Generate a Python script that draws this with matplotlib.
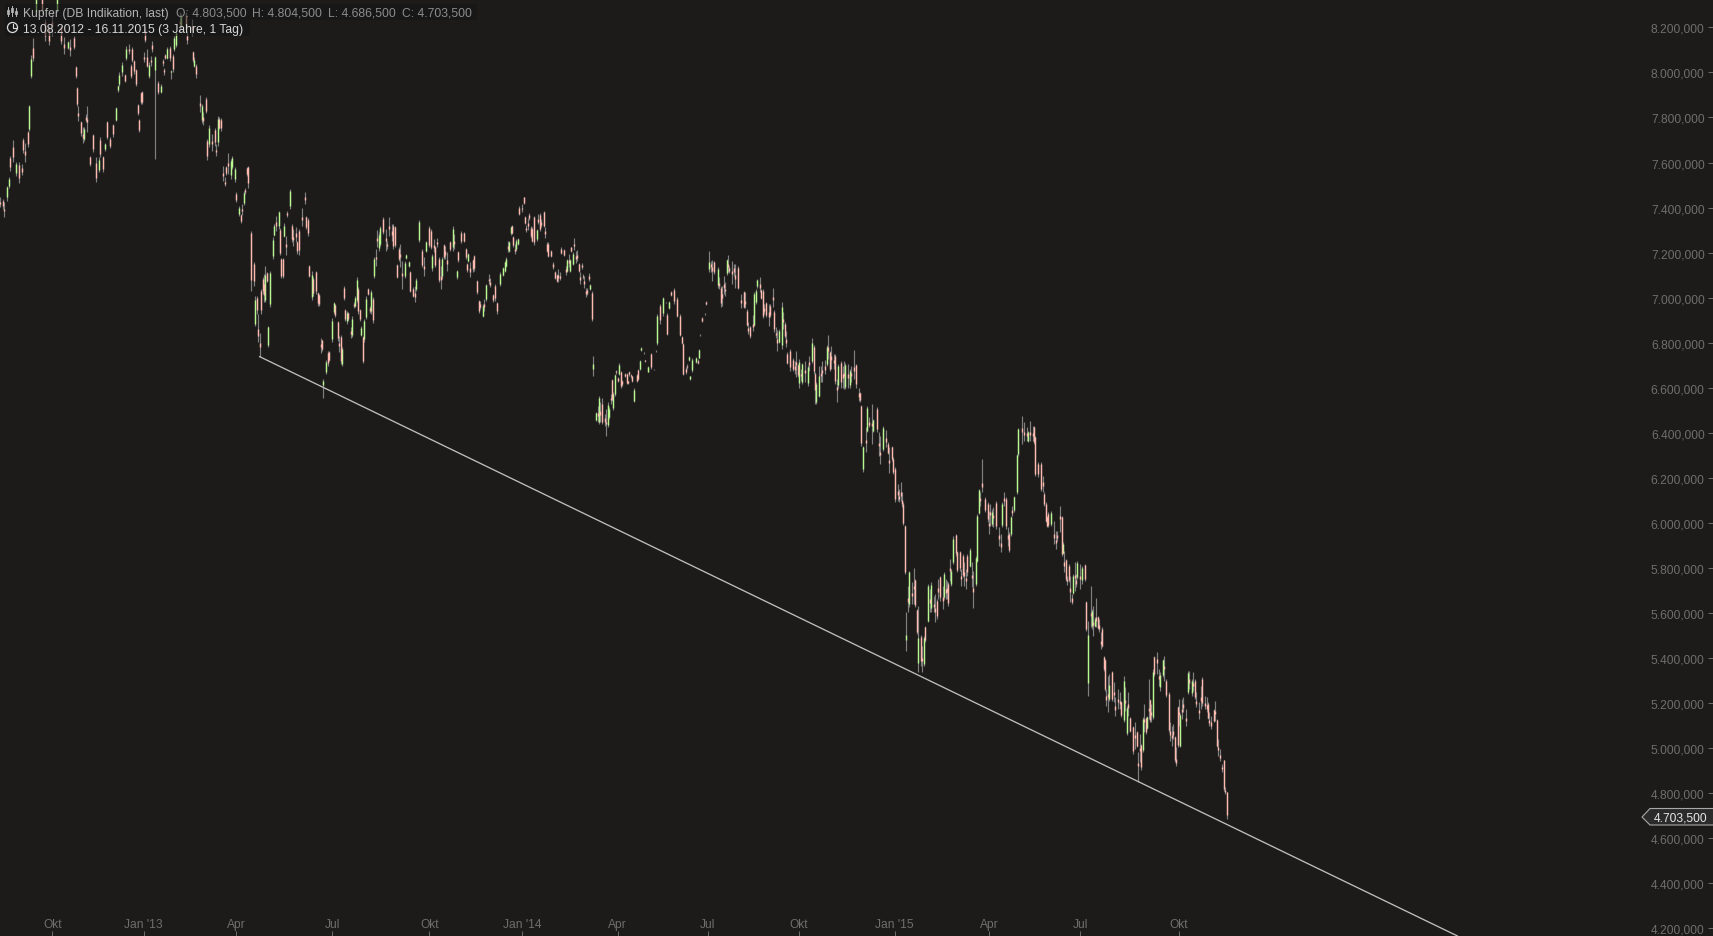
import numpy as np
import matplotlib
matplotlib.use("Agg")
import matplotlib.pyplot as plt
from matplotlib.patches import Circle, Polygon, Rectangle

plt.rcParams['font.family'] = ['Liberation Sans', 'DejaVu Sans']

# Prices are in thousands, sessions are trading days counted from Oct 2012
sessions = [
    -36,-34,-33,-31,-30,-29,-27,-25,-23,-21, -20,-19,-17,-16,-15,-13,-11,-7,-5,-2,
    0,3,6,8,11,12,15,16,17,18, 20,21,22,23,24,26,28,30,32,33,
    35,36,38,40,42,44,45,46,48,50, 51,53,54,55,56,58,59,60,61,62,
    63,64,65,67,68,69,71,73,75,76, 77,78,79,81,82,83,84,85,88,89,
    92,93,96,97,98,99,102,103,104,106, 107,108,110,112,113,114,115,116,118,119,
    120,121,123,124,126,127,129,130,131,132, 133,134,135,
    137,139,140,141,142,143,144,145,146,147, 148,149,150,152,153,154,156,157,158,159,
    160,161,162,164,165,166,168,169,170,172, 174,175,176,177,179,180,182,183,184,185,
    186,187,189,190,191,193,194,195,197,198, 199,200,201,202,203,204,206,207,208,209,
    210,211,212,213,214,215,216,218,219,220, 221,222,223,224,225,226,228,230,231,232,
    234,235,236,238,239,240,241,243,244,246, 247,249,250,251,253,255,256,258,260,261,
    262,263,264,265,267,268,269,270,271,272, 274,276,277,279,280,282,284,285,286,287,
    288,290,291,293,294,295,297,298,299,301, 302,304,305,307,
    309,311,312,313,314,315,316,317,318,319, 320,321,322,324,325,326,327,328,329,330,
    331,332,334,335,336,337,339,340,341,342, 344,345,347,348,349,350,351,353,354,355,
    356,357,358,359,360,361,362,363,364,365, 366,367,368,369,370,371,372,373,375,376,
    377,378,379,381,382,383,384,385,386,387, 388,389,390,391,392,393,395,396,397,398,
    399,400,401,403,404,405,406,408,409,411, 413,415,416,417,419,421,423,424,425,427,
    429,431,433,434,435,437,438,439,440,441, 444,445,446,447,448,450,451,453,454,455,
    456,459,460,461,462,463,464,465,466,467, 469,470,471,473,
    475,477,478,479,480,481,483,484,485,486, 488,489,490,491,492,494,495,497,498,499,
    500,501,503,504,505,506,507,509,511,512, 513,514,515,516,517,519,521,522,524,525,
    526,527,529,530,531,533,534,535,536,537, 539,540,541,542,544,545,546,547,549,550,
    551,553,554,556,557,558,559,561,562,563, 565,566,569,570,571,573,575,576,577,579, 580,
    581,583,584,585,586,587,588,589,590,591, 593,594,595,596,597,599,600,601,602,604,
    605,606,608,609,610,611,612,614,615,616, 617,618,619,620,621,623,624,626,627,628,
    629,630,631,633,634,635,637,638,639,640, 641,643,645,646,647,648,649,651,653,654,
    655,656,658,659,660,661,662,663,665,666, 669,670,672,673,674,676,677,678,680,682,
    683,684,685,686,
    687,689,691,692,693,695,696,697,698,699, 700,701,702,703,704,705,706,707,709,710,
    712,713,714,716,717,718,719,720,721,722, 723,724,725,726,727,728,729,731,732,733,
    735,736,737,739,740,741,742,743,745,747, 748,749,750,751,752,753,754,755,756,757,
    758,759,760,762,763,764,766,767,768,770, 771,772,773,774,775,776,777,778,779,780,
    782,783,784,786,787,788,789,791,792,793, 795,796,797,798,799,801,802,803,804,805,
    807,808,809,810,
]
highs = [
    7445,7438,7423,7497,7534,7630,7701,7604,7601,7593, 7707,7687,7741,7857,8077,8151,8340,8340,8237,8208,
    8267,8340,8208,8156,8141,8148,8163,8030,7937,7849, 7786,7756,7756,7815,7849,7630,7727,7623,7623,7712,
    7630,7687,7786,7712,7771,7848,7944,8000,8045,7993, 8116,8126,8037,8111,8057,8015,7860,7793,7915,7919,
    8089,8200,8104,8045,8074,8138,8074,7963,7949,8060, 8020,8082,8114,8119,8011,8082,8163,8185,8267,8259,
    8267,8185,8237,8097,8067,8037,7900,7860,7823,7889, 7704,7767,7727,7752,7682,7808,7801,7796,7586,7534,
    7586,7642,7616,7627,7579,7468,7408,7371,7416,7475, 7485,7579,7586,
    7295,7157,7006,7006,6928,6843,7039,7090,7105,7142, 7113,6876,7120,7268,7327,7364,7386,7309,7176,7176,
    7330,7275,7386,7483,7327,7305,7312,7253,7305,7397, 7468,7364,7352,7145,7120,7090,7120,7024,7016,6820,
    6814,6639,6725,6765,6765,6908,6982,6972,6898,6831, 6834,6780,7050,6950,6942,6935,6868,6917,6982,7009,
    7090,7046,6950,6873,6831,6905,7006,7042,6965,7036, 7002,7179,7216,7302,7290,7320,7357,7305,7253,7357,
    7327,7327,7320,7150,7224,7238,7164,7164,7194,7164, 7120,7046,7053,7086,7346,7216,7179,7253,7317,7305,
    7194,7261,7231,7264,7179,7142,7179,7238,7231,7201, 7253,7317,7283,7124,7209,7295,7293,7219,7154,7198,
    7157,7172,7190,7079,6991,6986,6972,6994,7061,7105, 7086,7016,7061,6982,
    7112,7134,7164,7179,7253,7253,7319,7324,7275,7238, 7260,7267,7405,7415,7449,7361,7322,7352,7378,7316,
    7312,7364,7307,7371,7375,7349,7386,7312,7245,7245, 7213,7159,7119,7105,7127,7115,7223,7216,7142,7171,
    7193,7171,7227,7201,7263,7208,7211,7153,7112,7153, 7105,7094,7045,7045,7109,7060,7028,6739,6493,6520,
    6564,6535,6553,6483,6505,6535,6513,6572,6641,6579, 6661,6680,6646,6709,6675,6635,6664,6665,6631,6675,
    6660,6653,6597,6661,6683,6724,6779,6760,6724,6698, 6754,6684,6766,6927,6971,7005,6980,6931,6986,7031,
    7042,7001,6927,6828,6798,6690,6705,6739,6653,6730, 6735,6728,6772,6838,6912,6930,6983,7205,7164,7168,
    7164,7134,7090,7053,7053,7094,7068,7171,7190,7142, 7164,7149,7149,7139,
    7016,7031,7023,6949,6893,6875,6923,7023,7038,7085, 7090,7038,7038,6971,6982,6971,6971,7045,6945,6868,
    6857,6860,6982,6937,6890,6853,6757,6772,6730,6720, 6764,6705,6727,6683,6712,6720,6700,6742,6819,6789,
    6668,6624,6698,6698,6720,6724,6789,6834,6764,6786, 6749,6749,6638,6705,6717,6698,6717,6709,6705,6683,
    6698,6767,6705,6601,6579,6524,6342,6424,6520,6468, 6527,6461,6513,6402,6387,6428,6413,6357,6335,6340, 6291,
    6247,6173,6150,6180,6136,6091,5991,5603,5718,5788, 5736,5798,5751,5618,5632,5502,5455,5499,5544,5729,
    5706,5736,5677,5684,5662,5751,5766,5721,5783,5751, 5743,5736,5840,5795,5940,5951,5877,5877,5795,5862,
    5825,5795,5862,5887,5825,5788,5854,6039,6150,6136, 6284,6113,6091,6054,6084,6062,6069,6099,5980,5951,
    6091,6139,6113,5980,5958,6032,6076,6121,6306,6420, 6476,6446,6424,6409,6454,6432,6432,6387,6269,6269,
    6210,6136,6091,6032,
    6047,6054,6010,5965,5965,6076,6032,5914,5877,5840, 5766,5817,5766,5684,5773,5825,5773,5832,5817,5810,
    5817,5655,5566,5718,5618,5632,5581,5665,5588,5573, 5514,5536,5410,5396,5262,5322,5329,5344,5292,5225,
    5262,5248,5210,5322,5270,5188,5248,5137,5100,5114, 5077,4981,5063,5018,5137,5196,5137,5144,5307,5218,
    5196,5351,5410,5428,5351,5336,5396,5410,5307,5248, 5114,5100,5107,5055,5003,5188,5218,5151,5218,5225,
    5174,5344,5344,5307,5336,5307,5248,5203,5277,5314, 5233,5225,5203,5159,5144,5174,5210,5129,5040,4996,
    4929,4949,4826,4804.5,
]
lows = [
    7401,7394,7357,7431,7485,7564,7601,7542,7508,7546, 7642,7601,7667,7741,7974,8049,8252,8260,8141,8123,
    8163,8267,8126,8082,8104,8071,8104,7975,7849,7783, 7719,7687,7697,7778,7734,7586,7645,7512,7556,7623,
    7556,7653,7704,7664,7712,7783,7915,7941,7986,7956, 8057,8082,7974,8045,7993,7941,7812,7737,7860,7860,
    8045,8134,8023,7975,8030,8092,7616,7904,7909,8030, 7989,8060,8060,8052,7971,8003,8097,8111,8178,8193,
    8178,8126,8163,8045,8023,7974,7823,7775,7767,7820, 7613,7667,7653,7675,7627,7675,7749,7741,7519,7494,
    7545,7549,7527,7571,7515,7426,7364,7330,7367,7411, 7460,7542,7485,
    7031,7053,6873,6928,6805,6738,6928,7016,6979,6979, 7068,6780,6957,7172,7275,7298,7305,7190,7087,7087,
    7268,7190,7357,7394,7246,7231,7246,7194,7190,7320, 7416,7305,7275,7090,6991,7009,7016,6965,6965,6754,
    6765,6554,6661,6698,6720,6805,6928,6913,6809,6757, 6706,6695,6991,6898,6883,6898,6820,6824,6953,6957,
    6979,6928,6898,6828,6710,6802,6905,7012,6932,6928, 6888,7086,7139,7224,7209,7231,7283,7209,7216,7275,
    7253,7216,7224,7086,7164,7135,7039,7086,7172,7135, 7024,7002,6979,7031,7246,7135,7098,7204,7224,7216,
    7120,7201,7135,7224,7068,7039,7083,7172,7172,7120, 7209,7209,7216,7083,7157,7243,7246,7172,7116,7157,
    7090,7116,7120,7016,6932,6949,6913,6942,6987,7061, 7046,6982,6987,6928,
    7053,7094,7112,7134,7201,7201,7279,7282,7223,7193, 7208,7233,7367,7381,7415,7327,7290,7301,7346,7267,
    7245,7235,7253,7327,7297,7312,7312,7267,7201,7179, 7179,7127,7082,7068,7071,7079,7193,7183,7100,7112,
    7134,7112,7201,7145,7211,7156,7164,7115,7060,7127, 7082,7045,7005,7011,7075,7034,6897,6650,6453,6446,
    6439,6446,6439,6431,6387,6424,6461,6527,6542,6502, 6564,6661,6624,6656,6601,6609,6646,6616,6616,6653,
    6645,6627,6538,6624,6635,6680,6764,6750,6715,6668, 6683,6680,6760,6791,6883,6920,6975,6835,6949,7008,
    6971,6912,6828,6794,6656,6661,6683,6720,6635,6671, 6712,6705,6730,6831,6893,6925,6968,7112,7112,7075,
    7105,7045,7038,6957,6964,7016,7008,7100,7112,7109, 7060,7097,7045,7038,
    6952,6952,6952,6872,6838,6819,6853,6872,6971,7045, 7023,6994,6908,6927,6912,6875,6912,6957,6846,6819,
    6764,6798,6772,6860,6819,6779,6705,6675,6675,6661, 6646,6646,6601,6631,6616,6624,6609,6675,6712,6661,
    6527,6527,6557,6624,6624,6661,6698,6727,6675,6683, 6683,6616,6538,6601,6601,6601,6594,6594,6601,6601,
    6624,6638,6601,6542,6535,6342,6228,6313,6402,6424, 6350,6402,6402,6298,6261,6320,6335,6305,6221,6276, 6217,
    6091,6099,6091,6099,6069,5991,5773,5433,5603,5625, 5640,5640,5625,5507,5336,5366,5339,5366,5470,5558,
    5603,5603,5603,5558,5573,5662,5655,5618,5662,5662, 5662,5632,5743,5721,5817,5854,5780,5788,5721,5758,
    5721,5706,5766,5803,5714,5621,5721,5825,6039,6076, 6136,6047,6002,5951,5987,5987,5980,5973,5899,5869,
    5980,6076,5973,5899,5872,5943,6032,6047,6128,6298, 6350,6365,6365,6358,6365,6365,6350,6207,6202,6143,
    6136,6076,6002,5980,
    5980,5988,5906,5884,5921,5958,5854,5862,5780,5743, 5724,5736,5647,5640,5684,5699,5714,5751,5706,5729,
    5743,5521,5233,5536,5529,5499,5536,5536,5529,5514, 5440,5447,5344,5255,5188,5159,5210,5210,5203,5144,
    5174,5174,5137,5114,5166,5058,5144,5070,4974,4996, 5003,4851,4937,4904,4981,5070,5063,5085,5129,5114,
    5114,5129,5322,5329,5277,5255,5314,5299,5225,5070, 5033,5011,5040,4937,4922,5003,5100,5003,5129,5159,
    5100,5240,5262,5233,5255,5218,5181,5129,5174,5188, 5174,5159,5129,5100,5085,5114,5122,5003,4966,4944,
    4892,4811,4796,4686.5,
]
opens = [
    7425,7430,7395,7445,7495,7620,7670,7555,7590,7575, 7700,7650,7735,7750,7985,8110,8265,8330,8225,8195,
    8225,8275,8200,8125,8110,8115,8155,8025,7930,7820, 7780,7725,7705,7800,7795,7625,7720,7600,7565,7700,
    7625,7660,7780,7705,7765,7790,7920,7950,8000,7990, 8065,8105,8030,8105,8050,8010,7855,7790,7910,7915,
    8070,8190,8070,7985,8055,8120,8010,7955,7915,8050, 8010,8078,8065,8110,8000,8075,8105,8120,8230,8205,
    8255,8160,8205,8090,8030,8030,7865,7790,7800,7880, 7695,7680,7695,7745,7655,7690,7795,7790,7555,7515,
    7580,7600,7545,7580,7525,7462,7370,7365,7395,7420, 7478,7575,7580,
    7285,7150,6885,7000,6860,6800,7030,7085,7060,6990, 7108,6790,6970,7185,7280,7335,7320,7300,7170,7170,
    7275,7240,7375,7405,7320,7270,7285,7248,7295,7360, 7445,7358,7345,7140,7005,7085,7115,7020,7012,6795,
    6810,6610,6670,6755,6760,6815,6935,6968,6890,6800, 6825,6705,7045,6945,6895,6930,6850,6835,6972,6965,
    6990,7040,6945,6835,6825,6815,6915,7038,6952,6940, 6995,7095,7180,7265,7220,7240,7350,7265,7240,7320,
    7295,7320,7312,7145,7218,7195,7110,7095,7176,7140, 7115,7040,7020,7040,7255,7205,7140,7208,7310,7298,
    7130,7235,7225,7248,7172,7095,7095,7232,7205,7165, 7248,7225,7252,7090,7204,7288,7288,7214,7150,7162,
    7130,7168,7185,7074,6986,6970,6920,6972,6995,7085, 7068,7012,7052,6976,
    7060,7100,7120,7140,7230,7208,7285,7320,7270,7218, 7215,7238,7400,7400,7445,7356,7308,7330,7365,7310,
    7305,7358,7260,7350,7368,7335,7380,7295,7240,7238, 7208,7148,7115,7100,7100,7098,7218,7212,7125,7118,
    7165,7118,7223,7150,7240,7185,7190,7149,7090,7145, 7098,7075,7030,7032,7095,7040,7020,6685,6458,6490,
    6450,6495,6530,6465,6450,6435,6470,6555,6635,6510, 6570,6675,6642,6662,6670,6628,6660,6660,6628,6670,
    6655,6650,6542,6656,6678,6685,6766,6756,6722,6672, 6750,6683,6764,6800,6965,6930,6978,6925,6952,7024,
    7036,6995,6920,6825,6794,6682,6698,6723,6638,6678, 6716,6720,6734,6836,6908,6929,6980,7125,7150,7135,
    7158,7055,7065,7045,7015,7060,7040,7108,7150,7130, 7120,7130,7100,7130,
    6990,7025,6985,6942,6865,6868,6885,6880,6980,7050, 7060,7032,7030,6955,6975,6935,6965,7005,6938,6845,
    6815,6805,6790,6905,6885,6815,6752,6765,6725,6695, 6715,6700,6620,6662,6625,6680,6620,6715,6720,6780,
    6660,6535,6565,6665,6680,6695,6705,6780,6758,6740, 6725,6742,6605,6610,6710,6660,6665,6605,6660,6610,
    6665,6690,6700,6575,6575,6518,6240,6370,6410,6450, 6445,6408,6505,6355,6315,6330,6375,6352,6280,6335, 6285,
    6240,6140,6120,6135,6100,6085,5985,5480,5665,5640, 5690,5720,5745,5612,5380,5495,5400,5375,5538,5565,
    5660,5620,5640,5620,5655,5710,5760,5670,5670,5705, 5710,5730,5800,5730,5825,5945,5870,5870,5765,5855,
    5780,5755,5855,5810,5770,5710,5730,5830,6045,6110, 6175,6108,6085,6000,6050,5995,6035,6090,5945,5910,
    5990,6110,6105,5945,5950,5950,6055,6055,6135,6305, 6420,6405,6400,6365,6405,6400,6425,6380,6262,6262,
    6180,6130,6085,6028,
    6040,5995,5950,5925,5945,6030,6025,5868,5825,5833, 5750,5810,5710,5665,5690,5770,5745,5760,5765,5745,
    5812,5650,5290,5600,5540,5560,5540,5580,5582,5545, 5475,5530,5405,5390,5230,5240,5220,5338,5250,5185,
    5220,5210,5205,5125,5215,5065,5195,5132,5095,5060, 5072,4935,5000,5012,4990,5130,5132,5090,5180,5212,
    5160,5140,5405,5395,5320,5270,5325,5365,5300,5242, 5075,5060,5075,5050,4950,5182,5160,5010,5175,5195,
    5135,5250,5305,5245,5290,5300,5210,5170,5225,5305, 5200,5190,5198,5125,5115,5168,5165,5125,5005,4970,
    4915,4945,4815,4803.5,
]
closes = [
    7415,7405,7385,7490,7525,7580,7625,7595,7530,7560, 7655,7635,7680,7850,8060,8065,8330,8275,8160,8140,
    8205,8330,8140,8110,8135,8100,8115,7985,7860,7805, 7730,7710,7750,7790,7780,7595,7660,7530,7610,7640,
    7570,7680,7715,7675,7725,7840,7940,7990,8035,7960, 8105,8095,7985,8055,8005,7950,7820,7745,7870,7870,
    8060,8145,8030,8035,8045,8105,8070,7915,7940,8040, 8000,8065,8105,8065,8008,8015,8155,8175,8215,8250,
    8195,8145,8190,8055,8055,7995,7850,7850,7785,7830, 7630,7755,7680,7690,7645,7795,7755,7755,7540,7505,
    7555,7585,7605,7620,7570,7435,7400,7340,7385,7465, 7468,7550,7510,
    7080,7075,6990,6945,6830,6780,6945,7030,7010,7100, 7075,6870,7110,7255,7320,7320,7380,7200,7095,7095,
    7320,7225,7365,7475,7260,7255,7270,7205,7210,7345, 7435,7315,7285,7098,7100,7020,7030,6975,6972,6780,
    6772,6630,6715,6710,6725,6895,6975,6925,6820,6785, 6720,6770,7000,6905,6930,6905,6838,6905,6962,7000,
    7080,6940,6905,6865,6720,6895,6995,7016,6942,7025, 6900,7170,7170,7250,7280,7310,7290,7250,7228,7305,
    7280,7230,7235,7092,7170,7180,7095,7155,7190,7160, 7030,7008,7005,7080,7335,7145,7125,7248,7235,7225,
    7185,7222,7145,7238,7080,7080,7170,7180,7190,7150, 7215,7305,7240,7118,7165,7252,7252,7180,7122,7192,
    7115,7125,7130,7025,6940,6960,6965,6960,7055,7075, 7058,6988,7000,6940,
    7105,7130,7158,7172,7218,7245,7315,7288,7232,7205, 7252,7262,7372,7392,7420,7332,7300,7318,7355,7275,
    7252,7245,7300,7338,7305,7322,7318,7282,7206,7186, 7184,7138,7086,7072,7088,7088,7198,7188,7115,7165,
    7152,7165,7205,7195,7228,7172,7178,7120,7078,7135, 7090,7060,7018,7020,7085,7055,6905,6705,6488,6475,
    6555,6480,6450,6450,6440,6525,6505,6545,6550,6570, 6655,6668,6628,6703,6608,6616,6650,6622,6620,6660,
    6650,6630,6592,6630,6640,6718,6776,6753,6717,6692, 6690,6681,6761,6920,6900,6998,6976,6840,6982,7012,
    6985,6920,6835,6798,6662,6670,6690,6735,6650,6725, 6730,6712,6768,6833,6897,6926,6971,7160,7135,7120,
    7112,7125,7052,6975,7000,7045,7028,7165,7135,7118, 7105,7115,7085,7045,
    6975,6960,6970,6880,6852,6830,6870,7015,7030,7080, 7045,7000,6920,6940,6925,6915,6922,6990,6860,6832,
    6800,6850,6960,6890,6830,6800,6712,6690,6682,6680, 6700,6655,6715,6650,6705,6665,6690,6700,6800,6675,
    6590,6615,6650,6650,6665,6680,6780,6765,6685,6725, 6710,6630,6590,6695,6625,6645,6650,6700,6645,6675,
    6650,6675,6615,6560,6545,6355,6335,6355,6510,6435, 6430,6455,6415,6340,6300,6420,6360,6312,6265,6285, 6225,
    6105,6125,6105,6120,6085,6000,5780,5500,5650,5780, 5675,5705,5635,5515,5490,5385,5385,5490,5478,5720,
    5645,5725,5625,5605,5585,5695,5670,5655,5775,5690, 5695,5645,5785,5785,5930,5865,5790,5800,5750,5770,
    5765,5740,5780,5880,5755,5695,5845,6030,6145,6095, 6160,6055,6015,5985,6035,6050,6020,5985,5930,5895,
    6085,6095,5985,5930,5880,6025,6045,6115,6300,6415, 6405,6390,6385,6405,6390,6385,6360,6215,6215,6150,
    6165,6085,6010,5985,
    5990,6045,5935,5910,5935,6015,5860,5905,5810,5750, 5740,5745,5695,5650,5765,5755,5730,5820,5750,5800,
    5750,5530,5500,5585,5610,5545,5575,5565,5535,5530, 5460,5455,5350,5262,5215,5225,5280,5220,5235,5170,
    5205,5195,5145,5300,5200,5180,5180,5075,4985,5045, 5010,4920,4985,4915,5130,5115,5070,5140,5165,5125,
    5145,5340,5330,5380,5305,5325,5390,5350,5235,5080, 5060,5045,5060,4945,4935,5015,5145,5145,5160,5180,
    5120,5335,5290,5300,5275,5225,5195,5155,5210,5200, 5185,5175,5135,5110,5100,5120,5150,5010,4990,4955,
    4905,4820,4805,4703.5,
]

# Trend line under the lows
trend_sessions = [143, 969]
trend_prices = [6738, 4166]

y_ticks = [4200, 4400, 4600, 4800, 5000, 5200, 5400, 5600, 5800, 6000, 6200,
           6400, 6600, 6800, 7000, 7200, 7400, 7600, 7800, 8000, 8200]
y_labels = ["4.200,000", "4.400,000", "4.600,000", "4.800,000", "5.000,000", "5.200,000",
            "5.400,000", "5.600,000", "5.800,000", "6.000,000", "6.200,000", "6.400,000",
            "6.600,000", "6.800,000", "7.000,000", "7.200,000", "7.400,000", "7.600,000",
            "7.800,000", "8.000,000", "8.200,000"]
x_ticks = [0, 63, 127, 193, 260, 324, 390, 452, 515, 581, 646, 709, 777]
x_labels = ["Okt", "Jan '13", "Apr", "Jul", "Okt", "Jan '14", "Apr", "Jul", "Okt",
            "Jan '15", "Apr", "Jul", "Okt"]

BG = "#1c1b1a"
GREY = "#808080"
PINK = "#ffb9ae"
GREEN = "#b9f78f"
TICK = "#6e6e6e"

sessions = np.array(sessions)
opens = np.array(opens)
closes = np.array(closes)
rising = closes >= opens

fig = plt.figure(figsize=(17.13, 9.37), dpi=100, facecolor=BG)
ax = fig.add_axes([0, 0, 1, 1], facecolor=BG)

ax.vlines(sessions, lows, highs, color=GREY, lw=0.85)
ax.vlines(sessions[rising], opens[rising], closes[rising], color=GREEN, lw=1.0)
ax.vlines(sessions[~rising], closes[~rising], opens[~rising], color=PINK, lw=1.0)
ax.plot(trend_sessions, trend_prices, color="#bebebe", lw=0.95)

ax.set_xlim(-36.07, 1145.3)
ax.set_ylim(4165.7, 8326)
for side in ax.spines.values():
    side.set_visible(False)

ax.yaxis.tick_right()
ax.set_yticks(y_ticks, y_labels)
ax.tick_params(axis='y', direction='in', length=3.6, width=0.7, color=TICK,
               labelcolor=TICK, labelsize=8.64, pad=-6)
for lab in ax.get_yticklabels():
    lab.set_ha('right')
ax.set_xticks(x_ticks, x_labels)
ax.tick_params(axis='x', direction='in', length=3.6, width=0.7, color=TICK,
               labelcolor=TICK, labelsize=8.64, pad=-13)

# Overlay in pixel units for the header and the price tag
over = fig.add_axes([0, 0, 1, 1])
over.set_xlim(0, 1713)
over.set_ylim(937, 0)
over.axis('off')

over.add_patch(Rectangle((5, 5), 472, 16, fc="#151515", ec='none', alpha=0.55))
over.add_patch(Rectangle((5, 21), 245, 16, fc="#151515", ec='none', alpha=0.55))

# bars icon
for bx, by0, by1, bt, bb in [(8, 8, 17, 11, 15), (12, 7, 17, 9, 13), (16, 9, 17, 12, 15)]:
    over.plot([bx, bx], [by0, by1], color="#b8b8b8", lw=0.7)
    over.add_patch(Rectangle((bx - 1, bt), 2, bb - bt, fc=BG, ec="#b8b8b8", lw=0.6))
# clock icon
over.add_patch(Circle((12.5, 28.5), 5, fc='none', ec="#dcdcdc", lw=0.9))
over.plot([12.5, 12.5, 15.5], [25, 29, 29], color="#dcdcdc", lw=0.8)

txt = dict(fontsize=8.77, va='center', ha='left')
over.text(23.3, 13.7, "Kupfer (DB Indikation, last)", color="#b2b2b2", **txt)
over.text(175.5, 13.7, "O: 4.803,500", color="#8c8c8c", **txt)
over.text(251.7, 13.7, "H: 4.804,500", color="#8c8c8c", **txt)
over.text(327.7, 13.7, "L: 4.686,500", color="#8c8c8c", **txt)
over.text(401.7, 13.7, "C: 4.703,500", color="#8c8c8c", **txt)
over.text(23.3, 29.7, "13.08.2012 - 16.11.2015 (3 Jahre, 1 Tag)", color="#d8d8d8", **txt)

over.add_patch(Polygon([(1642, 818), (1650, 809.5), (1714, 809.5), (1714, 826), (1650, 826)],
                       closed=True, fc="#2b2b2b", ec="#a8a8a8", lw=0.8))
over.text(1707.5, 818.5, "4.703,500", color="#e8e8e8", fontsize=8.64, va='center', ha='right')

fig.savefig("out.png", dpi=100, facecolor=BG)
